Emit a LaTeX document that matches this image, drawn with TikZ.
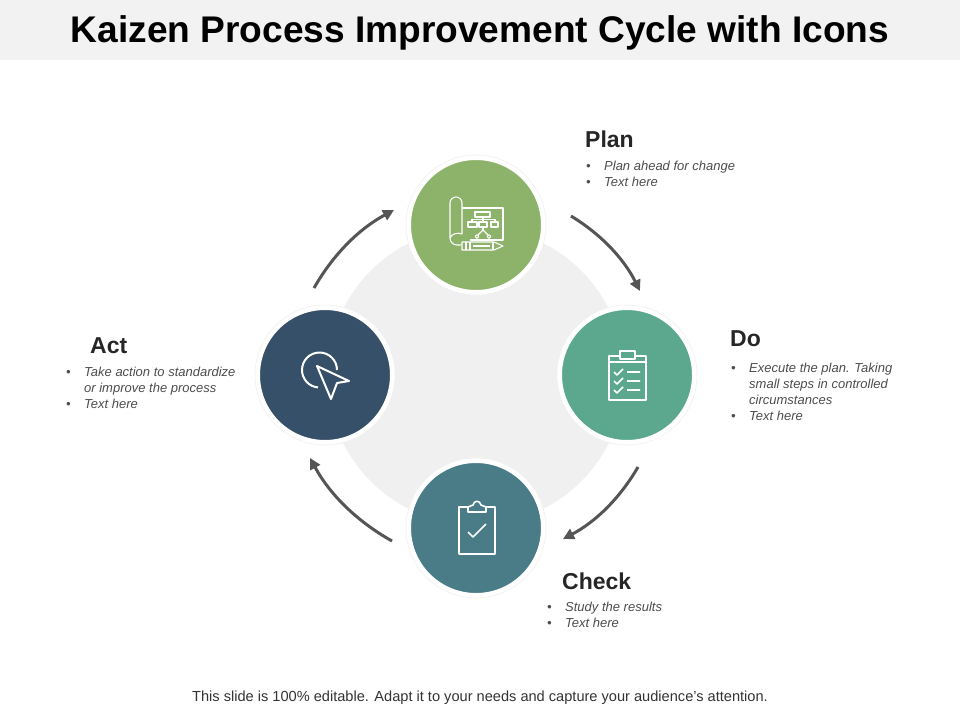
\documentclass[tikz,border=0pt]{standalone}
\usepackage{fontspec}
\setmainfont{Liberation Sans}
\usetikzlibrary{arrows.meta,calc}
\definecolor{bandgray}{HTML}{F2F2F2}
\definecolor{hubgray}{HTML}{F0F0F0}
\definecolor{arrowgray}{HTML}{555555}
\definecolor{plangreen}{HTML}{8DB36B}
\definecolor{doteal}{HTML}{5BA88F}
\definecolor{checkteal}{HTML}{4A7C87}
\definecolor{actnavy}{HTML}{375069}
\tikzstyle{phase}=[circle,draw=white,line width=3pt,minimum size=133pt,inner sep=0pt]
\tikzstyle{halo}=[circle,draw=black!6,fill=white,line width=0.6pt,minimum size=140pt,inner sep=0pt]
\tikzstyle{flow} = [draw=arrowgray,line width=3pt,-{Triangle[length=11pt,width=11pt]}]
\tikzstyle{icon} = [draw=white,line width=1.6pt,line join=round]
\tikzstyle{thinicon} = [draw=white,line width=1.1pt,line join=round]
\tikzstyle{heading}=[anchor=west,inner sep=0pt,font=\fontsize{23}{25}\selectfont\bfseries,text=black!85]
\tikzstyle{notes}=[anchor=north west,inner sep=0pt,align=left,text=black!70,font=\fontsize{13}{16}\selectfont\itshape]
\newcommand{\bul}{\makebox[18pt][l]{\textbullet}}
\newcommand{\cont}{\hspace*{18pt}}
\begin{document}
\begin{tikzpicture}[x=1pt,y=-1pt]
    \useasboundingbox (0,0) rectangle (960,720);
    % Title band and footer
    \fill[bandgray] (0,0) rectangle (960,60);
    \node[inner sep=0pt,font=\fontsize{37.1}{40}\selectfont\bfseries] (title) at (480,33) {Kaizen Process Improvement Cycle with Icons};
    \node[inner sep=0pt,text=black!80,font=\fontsize{14.6}{16}\selectfont] (footer) at (480,698) {This slide is 100\% editable. Adapt it to your needs and capture your audience's attention.};
    % Hub behind the four phases
    \node[circle,fill=hubgray,draw=white,line width=2pt,minimum size=300pt,inner sep=0pt] (hub) at (476,376) {};
    % First we draw the phases
    \foreach \pos/\name/\tint in {{(476,225)/plan/plangreen}, {(627,375)/do/doteal}, {(476,528)/check/checkteal}, {(325,375)/act/actnavy}} {
        \node[halo] (\name halo) at \pos {};
        \node[phase,fill=\tint] (\name) at \pos {};
    }
    % Connect phases with arrows
    \coordinate (planout) at (571,216);
    \coordinate (doin) at (640,291);
    \coordinate (doout) at (638,467);
    \coordinate (checkin) at (563,539);
    \coordinate (checkout) at (392,541);
    \coordinate (actin) at (310,458);
    \coordinate (actout) at (314,288);
    \coordinate (planin) at (394,210);
    \foreach \source/\dest in {plan/do, do/check, check/act, act/plan}
        \path[flow] (\source out) to[bend left=16,looseness=0.9] (\dest in);
    % Plan icon
    \path[thinicon] (462,208) -- (503,208) -- (503,240) -- (470,240);
    \path[thinicon] (462,234) -- (462,203) arc[start angle=0,end angle=-90,radius=6] -- (456,197)
        arc[start angle=-90,end angle=-180,radius=6] -- (450,238)
        arc[start angle=180,end angle=90,radius=7] -- (461,245);
    \path[thinicon] (450,238) .. controls (451,234) and (458,232) .. (462,234);
    \path[thinicon] (475,212) rectangle (490,217);
    \path[thinicon] (468,222) rectangle (477,227) (479,222) rectangle (487,227) (491,222) rectangle (498,227);
    \path[thinicon] (483,217) -- (483,222) (472,222) -- (472,219.5) -- (495,219.5) -- (495,222) (483,227) -- (483,230);
    \path[thinicon] (477,236.5) circle[radius=1.8] (489,236.5) circle[radius=1.8];
    \path[thinicon] (478,235) -- (483,230) -- (488,235);
    \path[thinicon] (462,242) -- (494,242) -- (503,246) -- (494,250) -- (462,250) -- cycle;
    \path[thinicon] (466,242) -- (466,250) (470,242) -- (470,250) (493,242) -- (493,250) (473,246) -- (490,246);
    % Do icon
    \path[icon] (620,356) -- (609,356) -- (609,400) -- (646,400) -- (646,356) -- (635,356);
    \path[icon] (620,351) rectangle (635,359);
    \path[icon] (609,362) -- (646,362);
    \foreach \ypos in {372,381,390}
        \path[icon] (614,\ypos) -- (617,\ypos+3) -- (623,\ypos-3) (627,\ypos) -- (640,\ypos);
    % Check icon
    \path[icon] (468,507) -- (459,507) -- (459,554) -- (495,554) -- (495,507) -- (486,507);
    \path[icon] (468,512) -- (486,512) -- (486,507) -- (481,505) .. controls (480,500) and (474,500) .. (473,505) -- (468,507) -- cycle;
    \path[icon] (468,532) -- (473,537) -- (486,524);
    % Act icon
    \path[icon,line width=2pt] (337,370) arc[start angle=0,end angle=-265,radius=17.5];
    \path[icon,line width=2pt] (317,366) -- (349,381) -- (337,383) -- (331,399) -- cycle;
    % Labels
    \node[heading] (planhead) at (585,139) {Plan};
    \node[notes] (plannotes) at (586,161) {\bul Plan ahead for change\\ \bul Text here};
    \node[heading] (dohead) at (730,339) {Do};
    \node[notes] (donotes) at (731,363) {\bul Execute the plan. Taking\\ \cont small steps in controlled\\ \cont circumstances\\ \bul Text here};
    \node[heading] (checkhead) at (562,581) {Check};
    \node[notes] (checknotes) at (547,602) {\bul Study the results\\ \bul Text here};
    \node[heading] (acthead) at (90,346) {Act};
    \node[notes] (actnotes) at (66,367) {\bul Take action to standardize\\ \cont or improve the process\\ \bul Text here};
\end{tikzpicture}
\end{document}
